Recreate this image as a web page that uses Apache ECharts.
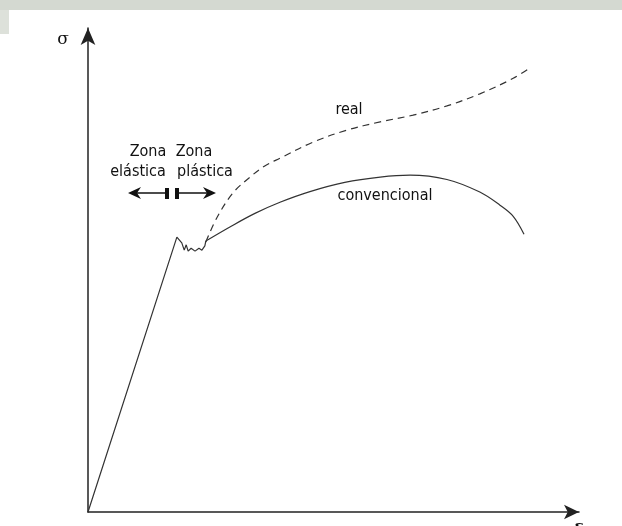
<!DOCTYPE html>
<html>
<head>
<meta charset="utf-8">
<script src="https://cdn.jsdelivr.net/npm/echarts@6/dist/echarts.min.js"></script>
<style>
  html, body { margin: 0; padding: 0; background: #fff; }
  #chart { width: 622px; height: 526px; }
</style>
</head>
<body>
<div id="chart"></div>
<script>
// zona elástica + fluencia (ε y σ en escala 0-100)
const elasticaX = [0, 18.1, 19.1, 19.6, 20.0, 20.4, 21.0, 21.8, 22.6, 23.2, 23.8, 24.0]
const elasticaY = [0, 56.8, 55.6, 54.1, 55.2, 53.9, 54.5, 53.9, 54.5, 54.1, 55.0, 56.0]
// curva convencional
const convX = [24.0, 28.9, 34.0, 39.1, 45.2, 52.3, 59.5, 65.6, 73.1, 79.8, 83.9, 86.6, 88.8]
const convY = [56.0, 58.9, 61.7, 64.0, 66.2, 68.1, 69.2, 69.6, 68.7, 66.1, 63.4, 61.1, 57.4]
// curva real (discontinua)
const realX = [24.0, 26.3, 29.5, 33.0, 36.0, 39.1, 45.8, 52.7, 59.5, 66.2, 73.1, 79.8, 86.6, 89.6]
const realY = [55.8, 60.9, 65.9, 69.2, 71.5, 73.1, 76.4, 78.9, 80.6, 82.0, 83.9, 86.4, 89.6, 91.5]

const zip = (xs, ys) => xs.map((x, i) => [x, ys[i]])
const narrow = "'Liberation Sans Narrow', 'DejaVu Sans Condensed', 'Arial Narrow', sans-serif"
const lineColor = '#333'

const chart = echarts.init(document.getElementById('chart'))

function label (text, x, y, size) {
  return {
    type: 'text',
    x: x,
    y: y,
    style: {
      text: text,
      fill: '#111',
      font: size + 'px ' + narrow,
      align: 'center',
      verticalAlign: 'middle'
    }
  }
}

const option = {
  animation: false,
  backgroundColor: '#fff',
  grid: { left: 88, right: 43, top: 28, bottom: 14 },
  xAxis: {
    type: 'value',
    min: 0,
    max: 100,
    axisLine: {
      onZero: false,
      symbol: ['none', 'arrow'],
      symbolSize: [11, 15],
      lineStyle: { color: '#222', width: 1.5 }
    },
    axisTick: { show: false },
    axisLabel: { show: false },
    splitLine: { show: false }
  },
  yAxis: {
    type: 'value',
    min: 0,
    max: 100,
    axisLine: {
      show: true,
      onZero: false,
      symbol: ['none', 'arrow'],
      symbolSize: [11, 17],
      lineStyle: { color: '#222', width: 1.5 }
    },
    axisTick: { show: false },
    axisLabel: { show: false },
    splitLine: { show: false }
  },
  series: [
    {
      name: 'elastica',
      type: 'line',
      data: zip(elasticaX, elasticaY),
      showSymbol: false,
      lineStyle: { color: lineColor, width: 1.2 }
    },
    {
      name: 'convencional',
      type: 'line',
      data: zip(convX, convY),
      smooth: 0.35,
      showSymbol: false,
      lineStyle: { color: lineColor, width: 1.2 }
    },
    {
      name: 'real',
      type: 'line',
      data: zip(realX, realY),
      smooth: 0.35,
      showSymbol: false,
      lineStyle: { color: lineColor, width: 1.2, type: [7, 5] }
    }
  ],
  graphic: [
    // franja gris superior (marca de agua)
    { type: 'rect', shape: { x: 0, y: 0, width: 622, height: 10 }, style: { fill: '#d4d9d1' } },
    { type: 'rect', shape: { x: 0, y: 10, width: 9, height: 24 }, style: { fill: '#dde1da' } },
    // nombres de ejes
    { type: 'text', x: 63, y: 40, style: { text: 'σ', fill: '#111', font: '17px "DejaVu Serif", serif', align: 'center', verticalAlign: 'middle' } },
    { type: 'text', x: 579, y: 528, style: { text: 'ε', fill: '#111', font: 'bold 16px "DejaVu Serif", serif', align: 'center', verticalAlign: 'middle' } },
    // etiquetas
    label('real', 349, 110, 16),
    label('convencional', 385, 196, 16),
    label('Zona', 148, 152, 16),
    label('Zona', 194, 152, 16),
    label('elástica', 138, 172, 16),
    label('plástica', 205, 172, 16),
    // flechas de zona
    { type: 'line', shape: { x1: 136, y1: 193, x2: 166, y2: 193 }, style: { stroke: '#111', lineWidth: 1.5 } },
    { type: 'polygon', shape: { points: [[128, 193], [141, 187], [137, 193], [141, 199]] }, style: { fill: '#111' } },
    { type: 'rect', shape: { x: 165, y: 188, width: 4, height: 11 }, style: { fill: '#111' } },
    { type: 'rect', shape: { x: 175, y: 188, width: 4, height: 11 }, style: { fill: '#111' } },
    { type: 'line', shape: { x1: 178, y1: 193, x2: 208, y2: 193 }, style: { stroke: '#111', lineWidth: 1.5 } },
    { type: 'polygon', shape: { points: [[216, 193], [203, 187], [207, 193], [203, 199]] }, style: { fill: '#111' } }
  ]
}

chart.setOption(option)
</script>
</body>
</html>
